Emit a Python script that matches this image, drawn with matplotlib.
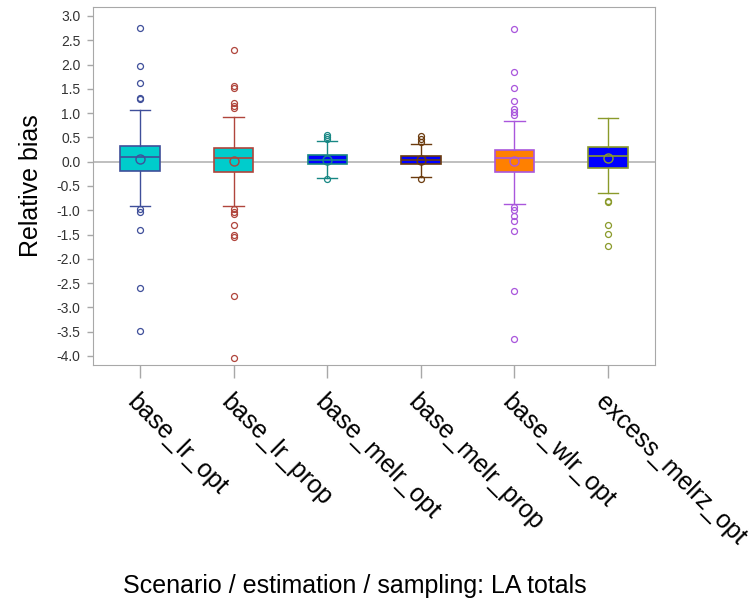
import matplotlib

matplotlib.use("Agg")
import matplotlib.pyplot as plt

plt.rcParams["font.family"] = ["Liberation Sans", "DejaVu Sans"]

# Relative bias summaries per scenario / estimation / sampling combination
scenarios = [
    "base_lr_opt",
    "base_lr_prop",
    "base_melr_opt",
    "base_melr_prop",
    "base_wlr_opt",
    "excess_melrz_opt",
]
q1 = [-0.19, -0.21, -0.05, -0.05, -0.21, -0.13]
medians = [0.10, 0.08, 0.03, 0.03, 0.07, 0.12]
q3 = [0.33, 0.28, 0.13, 0.11, 0.25, 0.30]
means = [0.05, 0.01, 0.03, 0.03, 0.02, 0.07]
whisker_lo = [-0.91, -0.91, -0.33, -0.31, -0.87, -0.65]
whisker_hi = [1.06, 0.92, 0.42, 0.36, 0.84, 0.90]
outliers = [
    [2.75, 1.96, 1.63, 1.32, 1.29, -0.98, -1.04, -1.41, -2.59, -3.48],
    [2.30, 1.56, 1.52, 1.20, 1.15, 1.10, -0.98, -1.04, -1.08, -1.31, -1.50,
     -1.54, -2.76, -4.04],
    [0.54, 0.50, 0.46, -0.36],
    [0.53, 0.46, 0.41, -0.36],
    [2.73, 1.84, 1.52, 1.24, 1.08, 1.02, 0.96, -0.93, -0.99, -1.11, -1.23,
     -1.43, -2.66, -3.66],
    [-0.81, -0.83, -1.30, -1.49, -1.73],
]

fill_colors = ["#00CCCC", "#00CCCC", "#0000FF", "#0000FF", "#FF8000", "#0000FF"]
line_colors = ["#3F4F9A", "#B0453C", "#178784", "#6B3B0E", "#A956DC", "#8A9A2A"]

fig = plt.figure(figsize=(7.52, 6.08), dpi=100)
ax = fig.add_axes([0.1237, 0.3997, 0.7473, 0.5888])

ax.axhline(0, color="#B4B4B4", linewidth=1.2, zorder=1)

positions = list(range(1, len(scenarios) + 1))
for i, pos in enumerate(positions):
    stats = [{
        "med": medians[i],
        "q1": q1[i],
        "q3": q3[i],
        "whislo": whisker_lo[i],
        "whishi": whisker_hi[i],
        "mean": means[i],
        "fliers": outliers[i],
        "label": scenarios[i],
    }]
    c = line_colors[i]
    ax.bxp(
        stats,
        positions=[pos],
        widths=0.42,
        capwidths=0.22,
        patch_artist=True,
        showmeans=True,
        boxprops=dict(facecolor=fill_colors[i], edgecolor=c, linewidth=1.2),
        medianprops=dict(color=c, linewidth=1.2),
        whiskerprops=dict(color=c, linewidth=1.0),
        capprops=dict(color=c, linewidth=1.0),
        meanprops=dict(marker="o", markerfacecolor="none",
                       markeredgecolor=c, markersize=6.5, markeredgewidth=1.0),
        flierprops=dict(marker="o", markerfacecolor="none",
                        markeredgecolor=c, markersize=4.3, markeredgewidth=0.9),
        zorder=2,
    )

ax.set_xlim(0.5, len(scenarios) + 0.5)
ax.set_ylim(-4.185, 3.185)
ax.set_yticks([v / 2 for v in range(-8, 7)])
ax.set_yticklabels([f"{v / 2:.1f}" for v in range(-8, 7)], fontsize=10,
                   color="#333333")
ax.set_xticks(positions)
ax.set_xticklabels(scenarios, rotation=-45, ha="left", va="top",
                   rotation_mode="anchor", fontsize=18)

for side in ["left", "right", "top", "bottom"]:
    ax.spines[side].set_color("#A8A8A8")
ax.tick_params(axis="y", length=4, color="#A8A8A8", width=1, pad=5)
ax.tick_params(axis="x", length=9, color="#A8A8A8", width=1, pad=9)

ax.set_ylabel("Relative bias", fontsize=18, labelpad=10)
fig.text(0.472, 0.025, "Scenario / estimation / sampling: LA totals",
         ha="center", va="baseline", fontsize=18)

fig.savefig("out.png", dpi=100)
